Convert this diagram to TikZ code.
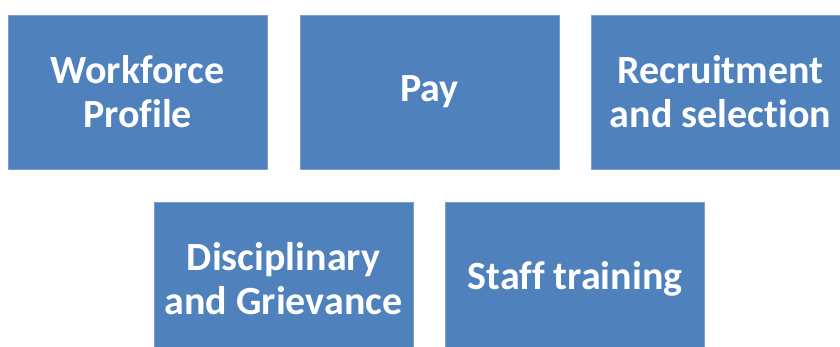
\documentclass[tikz,border=0pt]{standalone}
\usepackage{fontspec}
\setmainfont[Ligatures=NoCommon]{Carlito}
\usepackage{tikz}
\usepackage{xcolor}

\definecolor{boxblue}{HTML}{4F81BD}
\definecolor{boxedge}{HTML}{7D9DCB}

\begin{document}
\begin{tikzpicture}[x=1pt, y=1pt,
        topic/.style={draw=boxedge, line width=0.8pt, fill=boxblue, text=white,
            minimum width=259pt, minimum height=154pt, inner sep=0pt,
            align=center, font=\fontsize{40}{44}\selectfont\bfseries}]
            \useasboundingbox (0,0) rectangle (840,347);
            \clip (0,0) rectangle (840,347);
            \node[topic] (profile) at (137.5,255) {Workforce\\Profile};
            \node[topic] (pay) at (429.5,255) {Pay};
            \node[topic] (recruit) at (720.5,255) {Recruitment\\and selection};
            \node[topic] (discipline) at (283.5,68) {Disciplinary\\and Grievance};
            \node[topic] (training) at (575,68) {Staff training};
        \end{tikzpicture}
\end{document}
